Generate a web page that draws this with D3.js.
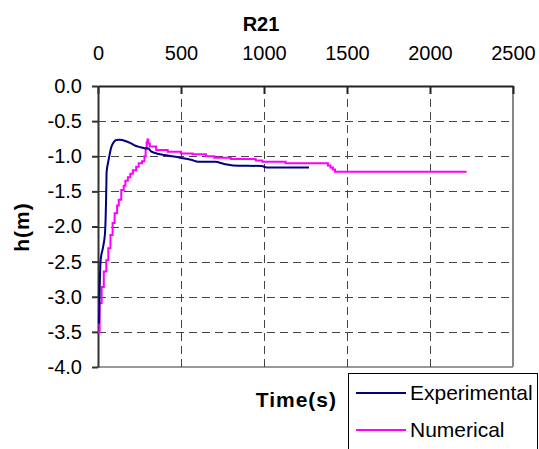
<!DOCTYPE html>
<html>
<head>
<meta charset="utf-8">
<script src="https://cdn.jsdelivr.net/npm/d3@7"></script>
<style>
  body { margin: 0; background: #fff; }
  svg text { font-family: "Liberation Sans", Arial, sans-serif; fill: #000; }
</style>
</head>
<body>
<svg id="chart" width="539" height="449"></svg>
<script>
// Experimental readings (time in s, head in m)
const expTime = [6, 10, 16, 30, 42, 48, 50, 52, 60, 68, 80, 95, 110, 130, 145, 160, 193, 225, 253, 280, 303, 320, 353, 420, 494, 560, 604, 705, 760, 815, 986, 1016, 1271];
const expHead = [-3.38, -2.9, -2.48, -2.3, -2.1, -1.69, -1.45, -1.22, -1.1, -1.0, -0.87, -0.8, -0.77, -0.765, -0.77, -0.78, -0.81, -0.85, -0.87, -0.885, -0.89, -0.93, -0.96, -0.99, -1.02, -1.05, -1.08, -1.08, -1.11, -1.13, -1.14, -1.16, -1.16];

// Numerical result (stepped)
const numTime = [0, 10, 22, 35, 50, 62, 75, 88, 100, 115, 125, 140, 155, 165, 180, 195, 210, 230, 245, 265, 280, 287, 293, 298, 303, 312, 350, 420, 500, 570, 650, 700, 800, 950, 990, 1130, 1385, 1400, 1415, 1428, 2221];
const numHead = [-3.5, -3.09, -2.86, -2.64, -2.48, -2.31, -2.12, -1.95, -1.81, -1.7, -1.62, -1.48, -1.42, -1.35, -1.3, -1.25, -1.2, -1.15, -1.1, -1.07, -1.0, -0.9, -0.8, -0.76, -0.82, -0.86, -0.91, -0.935, -0.96, -0.97, -1.0, -1.02, -1.04, -1.06, -1.08, -1.1, -1.13, -1.16, -1.19, -1.22, -1.22];

const xTicks = [0, 500, 1000, 1500, 2000, 2500];
const yTicks = [0, -0.5, -1, -1.5, -2, -2.5, -3, -3.5, -4];
const seriesNames = ['Experimental', 'Numerical'];
const seriesColors = ['#000080', '#ff00ff'];

const svg = d3.select('#chart');
const x = d3.scaleLinear().domain([0, 2500]).range([98, 513]);
const y = d3.scaleLinear().domain([-4, 0]).range([367, 86]);

// plot frame (right and bottom in grey)
svg.append('line').attr('x1', 513).attr('x2', 513).attr('y1', y(0)).attr('y2', y(-4))
  .attr('stroke', '#888').attr('stroke-width', 2);
svg.append('line').attr('x1', x(0)).attr('x2', 513).attr('y1', y(-4)).attr('y2', y(-4))
  .attr('stroke', '#999').attr('stroke-width', 2);

// dashed grid
const grid = svg.append('g').attr('stroke', '#444').attr('stroke-width', 1).attr('stroke-dasharray', '8,5');
grid.selectAll('.gx').data(xTicks.slice(1, -1)).join('line')
  .attr('x1', d => x(d) + 0.5).attr('x2', d => x(d) + 0.5)
  .attr('y1', y(0)).attr('y2', y(-4));
grid.selectAll('.gy').data(yTicks.slice(1, -1)).join('line')
  .attr('x1', x(0)).attr('x2', 513)
  .attr('y1', d => Math.round(y(d)) + 0.5).attr('y2', d => Math.round(y(d)) + 0.5);

// axes
const fontSize = 20;
const xAxis = svg.append('g').attr('transform', `translate(0,${y(0)})`)
  .call(d3.axisTop(x).tickValues(xTicks).tickSizeInner(-8).tickSizeOuter(0).tickPadding(26).tickFormat(d3.format('d')));
xAxis.select('.domain').attr('stroke', '#222').attr('stroke-width', 2);
xAxis.selectAll('.tick line').attr('stroke', '#222').attr('stroke-width', 2);
xAxis.selectAll('text').attr('font-size', fontSize).attr('font-family', 'Liberation Sans, Arial, sans-serif');

const yFmt = d => d3.format('.1f')(d).replace('\u2212', '-');
const yAxis = svg.append('g').attr('transform', `translate(${x(0)},0)`)
  .call(d3.axisLeft(y).tickValues(yTicks).tickSizeInner(6).tickSizeOuter(0).tickPadding(10).tickFormat(yFmt));
yAxis.select('.domain').attr('stroke', '#333').attr('stroke-width', 2);
yAxis.selectAll('.tick line').attr('stroke', '#333').attr('stroke-width', 2);
yAxis.selectAll('text').attr('font-size', fontSize).attr('font-family', 'Liberation Sans, Arial, sans-serif');

// series
const expLine = d3.line().x((d, i) => x(expTime[i])).y(d => y(d)).curve(d3.curveMonotoneX);
const numLine = d3.line().x((d, i) => x(numTime[i])).y(d => y(d)).curve(d3.curveStepAfter);
svg.append('path').attr('d', numLine(numHead)).attr('fill', 'none')
  .attr('stroke', seriesColors[1]).attr('stroke-width', 2);
svg.append('path').attr('d', expLine(expHead)).attr('fill', 'none')
  .attr('stroke', seriesColors[0]).attr('stroke-width', 2);

// titles
svg.append('text').attr('x', 261).attr('y', 31).attr('text-anchor', 'middle')
  .attr('font-size', 20).attr('font-weight', 'bold').text('R21');
svg.append('text').attr('x', 337).attr('y', 407).attr('text-anchor', 'end')
  .attr('font-size', 21).attr('font-weight', 'bold').attr('letter-spacing', 1).text('Time(s)');
svg.append('text').attr('transform', 'translate(29,227) rotate(-90)').attr('text-anchor', 'middle')
  .attr('font-size', 21).attr('font-weight', 'bold').attr('letter-spacing', 1).text('h(m)');

// legend
const legend = svg.append('g');
legend.append('rect').attr('x', 348.5).attr('y', 373.5).attr('width', 189).attr('height', 90)
  .attr('fill', '#fff').attr('stroke', '#000').attr('stroke-width', 1);
seriesNames.forEach((name, i) => {
  const ly = 393 + i * 37;
  legend.append('line').attr('x1', 356).attr('x2', 406).attr('y1', ly).attr('y2', ly)
    .attr('stroke', seriesColors[i]).attr('stroke-width', 2);
  legend.append('text').attr('x', 410).attr('y', ly + 7).attr('font-size', 21).text(name);
});
</script>
</body>
</html>
